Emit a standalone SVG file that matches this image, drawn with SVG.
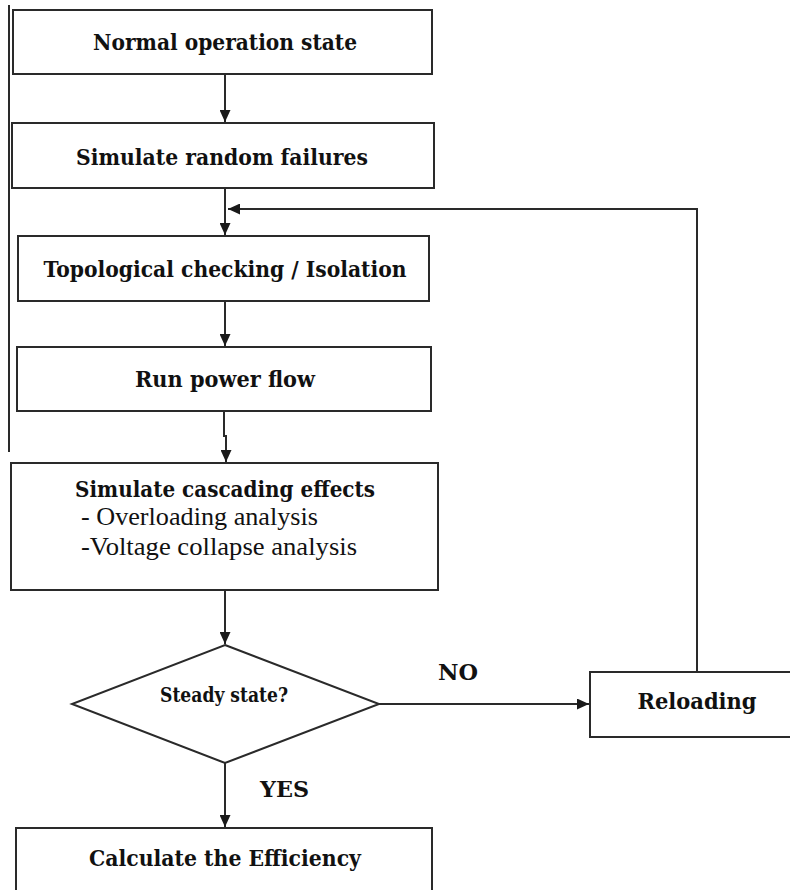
<svg xmlns="http://www.w3.org/2000/svg" width="790" height="890" viewBox="0 0 790 890">
<style>
.box{fill:#fff;stroke:#2a2a2a;stroke-width:2}
.ln{fill:none;stroke:#2a2a2a;stroke-width:2}
.b{font-family:"DejaVu Serif","Liberation Serif",serif;font-weight:bold;font-size:23px;fill:#111;text-anchor:middle}
.n{font-family:"Liberation Serif","DejaVu Serif",serif;font-size:26px;fill:#111}
</style>
<defs>
<marker id="ah" markerWidth="12" markerHeight="11" refX="12" refY="5.5" orient="auto" markerUnits="userSpaceOnUse">
<path d="M0,0 L12,5.5 L0,11 Z" fill="#1a1a1a"/>
</marker>
</defs>
<rect width="790" height="890" fill="#fff"/>
<line x1="9" y1="5" x2="9" y2="452" class="ln"/>
<g id="connectors">
<line x1="225" y1="74" x2="225" y2="122" class="ln" marker-end="url(#ah)"/>
<line x1="225" y1="188" x2="225" y2="235" class="ln" marker-end="url(#ah)"/>
<polyline points="697,672 697,209 228,209" class="ln" marker-end="url(#ah)"/>
<line x1="225" y1="301" x2="225" y2="346" class="ln" marker-end="url(#ah)"/>
<polyline points="224,411 224,436 226,436 226,462" class="ln" marker-end="url(#ah)"/>
<line x1="225" y1="590" x2="225" y2="644" class="ln" marker-end="url(#ah)"/>
<line x1="225" y1="763" x2="225" y2="827" class="ln" marker-end="url(#ah)"/>
<line x1="379" y1="704" x2="589" y2="704" class="ln" marker-end="url(#ah)"/>
<text x="438" y="680" class="b" style="text-anchor:start" textLength="40" lengthAdjust="spacingAndGlyphs">NO</text>
<text x="260" y="797" class="b" style="text-anchor:start" textLength="49" lengthAdjust="spacingAndGlyphs">YES</text>
</g>
<g id="n1">
<rect x="13" y="10" width="419" height="64" class="box"/>
<text x="225" y="50" class="b" textLength="264" lengthAdjust="spacingAndGlyphs">Normal operation state</text>
</g>
<g id="n2">
<rect x="12" y="123" width="422" height="65" class="box"/>
<text x="222" y="165" class="b" textLength="292" lengthAdjust="spacingAndGlyphs">Simulate random failures</text>
</g>
<g id="n3">
<rect x="18" y="236" width="411" height="65" class="box"/>
<text x="225" y="277" class="b" textLength="363" lengthAdjust="spacingAndGlyphs">Topological checking / Isolation</text>
</g>
<g id="n4">
<rect x="17" y="347" width="414" height="64" class="box"/>
<text x="225" y="387" class="b" textLength="180" lengthAdjust="spacingAndGlyphs">Run power flow</text>
</g>
<g id="n5">
<rect x="11" y="463" width="427" height="127" class="box"/>
<text x="225" y="497" class="b" textLength="300" lengthAdjust="spacingAndGlyphs">Simulate cascading effects</text>
<text x="81" y="525" class="n" textLength="237" lengthAdjust="spacingAndGlyphs">- Overloading analysis</text>
<text x="81" y="555" class="n" textLength="276" lengthAdjust="spacingAndGlyphs">-Voltage collapse analysis</text>
</g>
<g id="n6">
<polygon points="225,645 379,704 225,763 72,704" class="box"/>
<text x="224" y="702" class="b" style="font-size:20px" textLength="128" lengthAdjust="spacingAndGlyphs">Steady state?</text>
</g>
<g id="n7">
<rect x="16" y="828" width="416" height="80" class="box"/>
<text x="225" y="866" class="b" textLength="272" lengthAdjust="spacingAndGlyphs">Calculate the Efficiency</text>
</g>
<g id="n8">
<rect x="590" y="672" width="220" height="65" class="box"/>
<text x="697" y="709" class="b" textLength="119" lengthAdjust="spacingAndGlyphs">Reloading</text>
</g>
</svg>
